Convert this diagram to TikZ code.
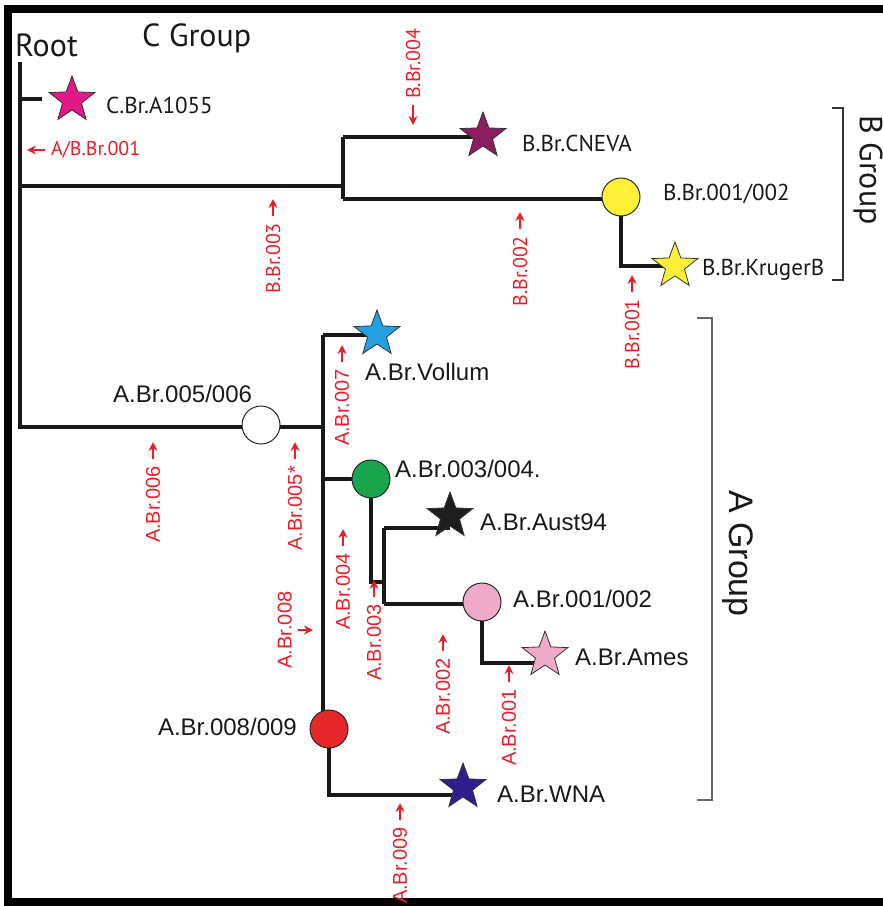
\documentclass[tikz,border=0pt]{standalone}
\usepackage{fontspec}
\setmainfont{Liberation Sans}
\newfontfamily\myriad{PT Sans}
\usetikzlibrary{arrows.meta,shapes.geometric,backgrounds}

\definecolor{mkred}{RGB}{232,30,40}
\definecolor{cmag}{RGB}{225,25,135}
\definecolor{bpur}{RGB}{140,30,95}
\definecolor{yel}{RGB}{255,240,55}
\definecolor{ablu}{RGB}{35,160,225}
\definecolor{agrn}{RGB}{25,165,75}
\definecolor{ablk}{RGB}{30,30,30}
\definecolor{apnk}{RGB}{238,170,200}
\definecolor{ared}{RGB}{230,40,40}
\definecolor{anav}{RGB}{45,30,140}

\begin{document}
\begin{tikzpicture}[x=1pt, y=-1pt, >=Stealth,
    br/.style={line width=3.6pt, black!90},
    hub/.style={circle, draw=black!85, line width=1pt, minimum size=38pt, inner sep=0pt},
    leaf/.style={shape=star, star points=5, star point ratio=2.4, minimum size=48pt, inner sep=0pt, draw=black!80, line width=0.8pt},
    nm/.style={text=black!90, font=\fontsize{24}{24}\selectfont, inner sep=0pt},
    nmb/.style={text=black!90, font=\myriad\fontsize{23}{23}\selectfont, inner sep=0pt},
    lab/.style={text=mkred, inner sep=1pt, font=\fontsize{20}{20}\selectfont},
    labb/.style={text=mkred, inner sep=1pt, font=\myriad\fontsize{20}{20}\selectfont},
    mk/.style={draw=mkred, line width=2pt, -{Stealth[length=9pt, width=9pt]}},
    grp/.style={text=black!90, font=\myriad\fontsize{32}{32}\selectfont, inner sep=0pt}]
    \useasboundingbox (0,0) rectangle (883,906);

    % Frame
    \fill (4,5) rectangle (883,13);
    \fill (4,5) rectangle (12,906);
    \fill (4,898) rectangle (883,906);

    % Titles
    \node[grp, anchor=base west] (root) at (15,56) {Root};
    \node[grp, anchor=base west] (cgrp) at (142,46) {C Group};

    % C group
    \node[leaf, fill=cmag] (cst) at (72,100) {};
    \node[nmb, anchor=base west] (csttx) at (106,113) {C.Br.A1055};

    % B group
    \node[leaf, fill=bpur] (cnv) at (483,136) {};
    \node[nmb, anchor=base west] (cnvtx) at (522,151) {B.Br.CNEVA};
    \node[hub, fill=yel] (bhub) at (621,197) {};
    \node[nmb, anchor=base west] (bhubtx) at (663,200) {B.Br.001/002};
    \node[leaf, fill=yel] (kru) at (675,266) {};
    \node[nmb, anchor=base west] (krutx) at (702,275) {B.Br.KrugerB};

    % A group
    \node[hub, fill=white] (a56) at (261,425) {};
    \node[nm, anchor=base west] (a56tx) at (113,402) {A.Br.005/006};
    \node[leaf, fill=ablu] (vol) at (377,334) {};
    \node[nm, anchor=base west] (voltx) at (365,380) {A.Br.Vollum};
    \node[hub, fill=agrn] (a34) at (371,479) {};
    \node[nm, anchor=base west] (a34tx) at (395,477) {A.Br.003/004.};
    \node[leaf, fill=ablk] (aus) at (450,516) {};
    \node[nm, anchor=base west] (austx) at (480,530) {A.Br.Aust94};
    \node[hub, fill=apnk] (a12) at (482,602) {};
    \node[nm, anchor=base west] (a12tx) at (513,607) {A.Br.001/002};
    \node[leaf, fill=apnk] (ame) at (545,655) {};
    \node[nm, anchor=base west] (ametx) at (575,665) {A.Br.Ames};
    \node[hub, fill=ared] (a89) at (329,729) {};
    \node[nm, anchor=base east] (a89tx) at (297,735) {A.Br.008/009};
    \node[leaf, fill=anav] (wna) at (463,787) {};
    \node[nm, anchor=base west] (wnatx) at (497,802) {A.Br.WNA};

    % Branch points
    \coordinate (rt) at (20,62);
    \coordinate (jc) at (20,99);
    \coordinate (cend) at (42,99);
    \coordinate (jb) at (20,186);
    \coordinate (bj) at (343,186);
    \coordinate (bt) at (343,137);
    \coordinate (bb) at (343,199);
    \coordinate (ja) at (20,427);
    \coordinate (aj) at (323,427);
    \coordinate (atop) at (323,335);
    \coordinate (j34) at (384,582);
    \coordinate (jt) at (384,528);
    \coordinate (jlo) at (384,604);
    \coordinate (jame) at (482,663);
    \coordinate (jwna) at (329,795);

    % Tree
    \begin{scope}[on background layer]
        \draw[br] (rt) -- (ja) -- (aj);
        \draw[br] (jc) -- (cend);
        \draw[br] (jb) -- (bj);
        \draw[br] (bt) -- (bb);
        \draw[br] (bt) -- (bt -| cnv);
        \draw[br] (bb) -- (bb -| bhub);
        \draw[br] (bhub.center) |- (kru.center);
        \draw[br] (atop) -- (atop |- a89);
        \draw[br] (atop) -- (atop -| vol);
        \draw[br] (atop |- a34) -- (a34.center);
        \draw[br] (a34.center) |- (j34);
        \draw[br] (jt) -- (jlo);
        \draw[br] (jt) -- (jt -| aus);
        \draw[br] (jlo) -- (jlo -| a12);
        \draw[br] (a12.center) -- (jame) -- (jame -| ame);
        \draw[br] (a89.center) -- (jwna) -- (jwna -| wna);
    \end{scope}

    % Markers
    \foreach \nx/\ny/\tx [count=\i] in {273/222/B.Br.003, 520/235/B.Br.002, 632/298/B.Br.001}
    {
        \node[labb, rotate=90, anchor=east] (bl\i) at (\nx,\ny) {\tx};
        \draw[mk] ([yshift=6pt]bl\i.east) -- ++(0,-17);
    }
    \foreach \nx/\ny/\tx [count=\i] in {153/465/A.Br.006, 295/465/A.Br.005*, 342/368/A.Br.007, 343/552/A.Br.004, 374/603/A.Br.003, 443/657/A.Br.002, 509/688/A.Br.001, 400/826/A.Br.009}
    {
        \node[lab, rotate=90, anchor=east] (al\i) at (\nx,\ny) {\tx};
        \draw[mk] ([yshift=6pt]al\i.east) -- ++(0,-17);
    }
    \node[labb, rotate=90, anchor=west] (b004) at (413,100) {B.Br.004};
    \draw[mk] ([yshift=-5pt]b004.west) -- ++(0,20);
    \node[lab, rotate=90, anchor=south] (a008) at (293,630) {A.Br.008};
    \draw[mk] ([xshift=5pt]a008.south) -- ++(15,0);
    \node[labb, anchor=west] (ab001) at (50,150) {A/B.Br.001};
    \draw[mk] ([xshift=-5pt]ab001.west) -- ++(-18,0);

    % Brackets
    \draw[line width=1.5pt, black!80] (832,108) -- (843,108) -- (843,280) -- (832,280);
    \draw[line width=1.8pt, black!60] (697,318) -- (712,318) -- (712,800) -- (697,800);
    \node[grp, rotate=-90, anchor=west] (bgrp) at (868,115) {B Group};
    \node[nm, font=\fontsize{34}{34}\selectfont, rotate=-90, anchor=west] (agrp) at (738,490) {A Group};
\end{tikzpicture}
\end{document}
